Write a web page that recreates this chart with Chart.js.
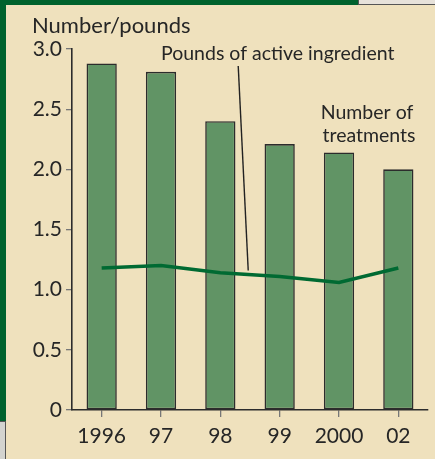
<!DOCTYPE html>
<html>
<head>
<meta charset="utf-8">
<script src="https://cdn.jsdelivr.net/npm/chart.js@4/dist/chart.umd.min.js"></script>
<style>
html,body{margin:0;padding:0;background:#efe1bd;}
canvas{display:block;}
</style>
</head>
<body>
<canvas id="c" width="435" height="459"></canvas>
<script>
// ---- data ----
const years = ['1996', '97', '98', '99', '2000', '02'];
const treatments = [2.88, 2.81, 2.40, 2.21, 2.14, 2.00];
const pounds = [1.18, 1.20, 1.14, 1.11, 1.06, 1.18];
const yTicks = [0, 0.5, 1.0, 1.5, 2.0, 2.5, 3.0];
const yTickLabels = ['0', '0.5', '1.0', '1.5', '2.0', '2.5', '3.0'];
const yTitle = 'Number/pounds';
const lineLabel = 'Pounds of active ingredient';
const barLabel = ['Number of', 'treatments'];

const FONT = 'Lato, "Open Sans", sans-serif';
const TEXT = '#262626';
const BEIGE = '#efe1bd';
const FRAME = '#00622d';

const framePlugin = {
  id: 'frame',
  beforeDraw(chart) {
    const ctx = chart.ctx;
    const W = chart.width, H = chart.height;
    ctx.save();
    ctx.fillStyle = BEIGE;
    ctx.fillRect(0, 0, W, H);
    // top strip
    ctx.fillStyle = FRAME;
    ctx.fillRect(0, 0, 359, 5);
    ctx.fillStyle = '#e7e2da';
    ctx.fillRect(359, 0, W - 359, 4);
    ctx.fillStyle = '#555';
    ctx.fillRect(359, 4, W - 359, 1);
    ctx.fillRect(358, 0, 1, 5);
    // left strip
    ctx.fillStyle = FRAME;
    ctx.fillRect(0, 0, 6, 422);
    ctx.fillStyle = '#d3d3cf';
    ctx.fillRect(0, 422, 6, H - 422);
    ctx.fillStyle = '#555';
    ctx.fillRect(5, 422, 1, H - 422);
    ctx.fillRect(0, 421, 6, 1);
    ctx.restore();
  },
  afterDraw(chart) {
    const ctx = chart.ctx;
    const x = chart.scales.x, y = chart.scales.y;
    ctx.save();
    ctx.fillStyle = TEXT;
    ctx.textBaseline = 'alphabetic';
    ctx.font = '22px ' + FONT;
    ctx.textAlign = 'left';
    ctx.fillText(yTitle, 32, 33);
    ctx.font = '19.5px ' + FONT;
    ctx.fillText(lineLabel, 161, 60);
    ctx.textAlign = 'center';
    ctx.fillText(barLabel[0], 367, 119);
    ctx.fillText(barLabel[1], 369, 142);
    // leader line to the line series (between 98 and 99)
    const step = x.getPixelForValue(3) - x.getPixelForValue(2);
    const ex = x.getPixelForValue(2) + step * 0.47;
    const ey = y.getPixelForValue(1.16);
    ctx.strokeStyle = '#222';
    ctx.lineWidth = 1.4;
    ctx.beginPath();
    ctx.moveTo(ex - 10, 66);
    ctx.lineTo(ex, ey);
    ctx.stroke();
    ctx.restore();
  }
};

new Chart(document.getElementById('c'), {
  type: 'bar',
  data: {
    labels: years,
    datasets: [
      {
        type: 'line',
        label: lineLabel,
        data: pounds,
        borderColor: '#006a32',
        borderWidth: 3.5,
        pointRadius: 0,
        tension: 0,
        fill: false,
        order: 0
      },
      {
        type: 'bar',
        label: 'Number of treatments',
        data: treatments,
        backgroundColor: '#619465',
        borderColor: '#2c2c2c',
        borderWidth: 1.6,
        borderSkipped: false,
        categoryPercentage: 1,
        barPercentage: 0.51,
        order: 1
      }
    ]
  },
  options: {
    responsive: false,
    animation: false,
    devicePixelRatio: 1,
    layout: { padding: { left: 0, top: 49, right: 7, bottom: 9 } },
    plugins: { legend: { display: false }, tooltip: { enabled: false } },
    scales: {
      x: {
        offset: true,
        grid: { display: true, drawOnChartArea: false, offset: false, tickLength: 7, color: '#777', lineWidth: 1.3 },
        border: { display: true, color: '#2c2c2c', width: 1.6 },
        ticks: { color: TEXT, font: { family: FONT, size: 21 }, padding: 7, maxRotation: 0, autoSkip: false },
        afterFit(s) { s.height = 40; }
      },
      y: {
        min: 0,
        max: 3,
        afterBuildTicks(s) { s.ticks = yTicks.map(v => ({ value: v })); },
        grid: { display: true, drawOnChartArea: false, tickLength: 6, color: '#777', lineWidth: 1.3 },
        border: { display: true, color: '#2c2c2c', width: 1.6 },
        ticks: {
          color: TEXT,
          font: { family: FONT, size: 21 },
          padding: 4,
          callback(v) { const i = yTicks.indexOf(v); return i >= 0 ? yTickLabels[i] : ''; }
        },
        afterFit(s) { s.width = 72; }
      }
    }
  },
  plugins: [framePlugin]
});
</script>
</body>
</html>
